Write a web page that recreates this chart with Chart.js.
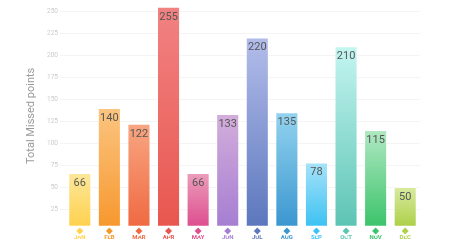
<!DOCTYPE html>
<html>
<head>
<meta charset="utf-8">
<script src="https://cdn.jsdelivr.net/npm/chart.js@4"></script>
<style>
  html, body { margin: 0; padding: 0; background: #fff; }
  #wrap { width: 450px; height: 250px; }
</style>
</head>
<body>
<div id="wrap"><canvas id="missedChart"></canvas></div>
<script>
const months = ['JAN', 'FEB', 'MAR', 'APR', 'MAY', 'JUN', 'JUL', 'AUG', 'SEP', 'OCT', 'NOV', 'DEC'];
const missedPoints = [66, 140, 122, 255, 66, 133, 220, 135, 78, 210, 115, 50];
const yTicks = [25, 50, 75, 100, 125, 150, 175, 200, 225, 250];

// light top / strong bottom of each bar
const topColors = ['#fde79a', '#fbc580', '#f8a682', '#f18282', '#eb9dbb', '#d3aedb',
  '#b3bdea', '#93d3ef', '#a7e3f8', '#c4f5f1', '#b1e8c3', '#d8eba0'];
const bottomColors = ['#ffd24f', '#f7982f', '#ef6a42', '#e8574f', '#de4f8f', '#a57ed2',
  '#5c77bd', '#3b97d0', '#3ec2f3', '#5dc4b4', '#3cc46b', '#aed04a'];

function barGradient(ctx) {
  const chart = ctx.chart;
  const y = chart.scales.y;
  if (!y || !chart.chartArea) return bottomColors[ctx.dataIndex];
  const top = y.getPixelForValue(ctx.raw);
  const g = chart.ctx.createLinearGradient(0, top, 0, chart.chartArea.bottom);
  g.addColorStop(0, topColors[ctx.dataIndex]);
  g.addColorStop(1, bottomColors[ctx.dataIndex]);
  return g;
}

const barExtras = {
  id: 'barExtras',
  afterDatasetsDraw(chart) {
    const ctx = chart.ctx;
    const meta = chart.getDatasetMeta(0);
    ctx.save();
    meta.data.forEach((bar, i) => {
      // value label
      ctx.fillStyle = '#555';
      ctx.font = '11px Roboto';
      ctx.textAlign = 'center';
      ctx.textBaseline = 'middle';
      ctx.fillText(missedPoints[i], bar.x, bar.y + 10);
      // diamond at the base
      const s = 4.5;
      ctx.beginPath();
      ctx.moveTo(bar.x, bar.base - s);
      ctx.lineTo(bar.x + s, bar.base);
      ctx.lineTo(bar.x, bar.base + s);
      ctx.lineTo(bar.x - s, bar.base);
      ctx.closePath();
      ctx.fillStyle = bottomColors[i];
      ctx.fill();
      ctx.lineWidth = 1.5;
      ctx.strokeStyle = '#fff';
      ctx.stroke();
    });
    ctx.restore();
  }
};

new Chart(document.getElementById('missedChart'), {
  type: 'bar',
  data: {
    labels: months,
    datasets: [{
      data: missedPoints,
      backgroundColor: barGradient,
      borderColor: 'rgba(255,255,255,0.55)',
      borderWidth: 1,
      borderSkipped: false,
      categoryPercentage: 0.78,
      barPercentage: 1
    }]
  },
  options: {
    responsive: true,
    maintainAspectRatio: false,
    animation: false,
    layout: { padding: { left: 21, right: 30, top: 0, bottom: 1 } },
    plugins: {
      legend: { display: false },
      tooltip: { enabled: false }
    },
    scales: {
      x: {
        grid: { display: false, drawTicks: false },
        border: { display: false },
        ticks: {
          color: ctx => bottomColors[ctx.index],
          font: { family: 'Roboto', size: 6, weight: 'bold' },
          padding: 8,
          maxRotation: 0,
          autoSkip: false
        }
      },
      y: {
        min: 6,
        max: 256,
        afterBuildTicks: scale => { scale.ticks = yTicks.map(v => ({ value: v })); },
        afterFit: scale => { scale.width = 44; },
        grid: { color: '#f4f4f4', drawTicks: true, tickLength: 5 },
        border: { display: false },
        ticks: {
          color: '#cccccc',
          font: { family: 'Roboto', size: 6.5 },
          padding: 2
        },
        title: {
          display: true,
          text: 'Total Missed points',
          color: '#9a9a9a',
          font: { family: 'Roboto', size: 11 }
        }
      }
    }
  },
  plugins: [barExtras]
});
</script>
</body>
</html>
